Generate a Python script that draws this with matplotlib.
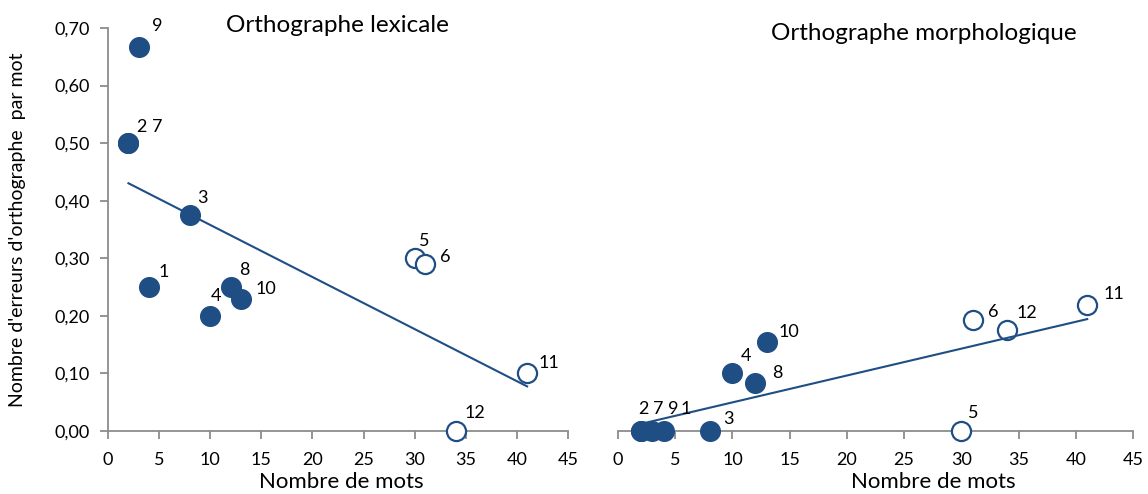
import numpy as np
import matplotlib
matplotlib.use("Agg")
import matplotlib.pyplot as plt
from matplotlib.ticker import FuncFormatter, MultipleLocator

plt.rcParams['font.family'] = ['Lato', 'DejaVu Sans']

# participants 1..12
ids = ['1', '2', '3', '4', '5', '6', '7', '8', '9', '10', '11', '12']
nb_mots = [4, 2, 8, 10, 30, 31, 2, 12, 3, 13, 41, 34]
err_lex = [0.25, 0.50, 0.375, 0.20, 0.30, 0.29, 0.50, 0.25, 0.667, 0.23, 0.10, 0.00]
err_morph = [0.0, 0.0, 0.0, 0.10, 0.0, 0.192, 0.0, 0.083, 0.0, 0.154, 0.219, 0.175]
# True = filled marker, False = open marker
filled = [True, True, True, True, False, False, True, True, True, True, False, False]

# label offsets in pixels (label centre relative to the point)
off_lex = {'1': (15, 15), '2': (13, 16), '3': (13, 17), '4': (6, 20), '5': (10, 17),
           '6': (20, 7), '7': (29, 16), '8': (14, 17), '9': (19, 21), '10': (25, 10),
           '11': (22, 10), '12': (19, 18)}
off_morph = {'1': (22, 22), '2': (3, 22), '3': (19, 12), '4': (14, 17), '5': (12, 18),
             '6': (20, 8), '7': (17, 22), '8': (22, 10), '9': (21, 22), '10': (22, 10),
             '11': (27, 11), '12': (20, 17)}

BLUE = '#1F4E85'
GREY = '#8C8C8C'

fig = plt.figure(figsize=(11.48, 4.94), dpi=100)
ax1 = fig.add_axes([108 / 1148, 63 / 494, 460 / 1148, 403 / 494])
ax2 = fig.add_axes([618 / 1148, 63 / 494, 515 / 1148, 403 / 494])

x = np.array(nb_mots)
fill = np.array(filled)


def panel(ax, y, offsets):
    y = np.array(y)
    ax.scatter(x[fill], y[fill], s=200, color=BLUE, zorder=3, clip_on=False)
    ax.scatter(x[~fill], y[~fill], s=190, facecolor='white', edgecolor=BLUE,
               linewidth=1.6, zorder=3, clip_on=False)
    a, b = np.polyfit(x, y, 1)
    xs = np.array([x.min(), x.max()])
    ax.plot(xs, a * xs + b, color=BLUE, lw=1.5, zorder=4)
    for i, lab in enumerate(ids):
        dx, dy = offsets[lab]
        ax.annotate(lab, (x[i], y[i]), xytext=(dx, dy), textcoords='offset pixels',
                    ha='center', va='center', fontsize=13, zorder=5,
                    annotation_clip=False)
    ax.set_xlim(0, 45)
    ax.set_ylim(0, 0.70)
    ax.xaxis.set_major_locator(MultipleLocator(5))
    ax.set_facecolor('none')
    for s in ['top', 'right']:
        ax.spines[s].set_visible(False)
    ax.spines['bottom'].set_color(GREY)
    ax.spines['bottom'].set_linewidth(1.3)
    ax.tick_params(axis='x', direction='out', length=6, width=1.3, color=GREY,
                   labelsize=13, pad=9)


panel(ax1, err_lex, off_lex)
panel(ax2, err_morph, off_morph)

ax1.yaxis.set_major_locator(MultipleLocator(0.1))
ax1.yaxis.set_major_formatter(FuncFormatter(lambda v, p: f"{v:.2f}".replace('.', ',')))
ax1.spines['left'].set_color(GREY)
ax1.spines['left'].set_linewidth(1.3)
ax1.tick_params(axis='y', direction='out', length=6, width=1.3, color=GREY,
                labelsize=13, pad=7)
ax2.spines['left'].set_visible(False)
ax2.set_yticks([])

ax1.set_xlabel('Nombre de mots', fontsize=16, va='center')
ax1.xaxis.set_label_coords(0.507, -0.127)
ax2.set_xlabel('Nombre de mots', fontsize=16, va='center')
ax2.xaxis.set_label_coords(0.612, -0.127)
ax1.set_ylabel("Nombre d'erreurs d'orthographe  par mot", fontsize=14, va='center')
ax1.yaxis.set_label_coords(-0.196, 0.5)

fig.text(337 / 1148, 1 - 25 / 494, 'Orthographe lexicale', fontsize=17.5,
         ha='center', va='center')
fig.text(924 / 1148, 1 - 33 / 494, 'Orthographe morphologique', fontsize=17.5,
         ha='center', va='center')

fig.savefig('out.png', dpi=100)
